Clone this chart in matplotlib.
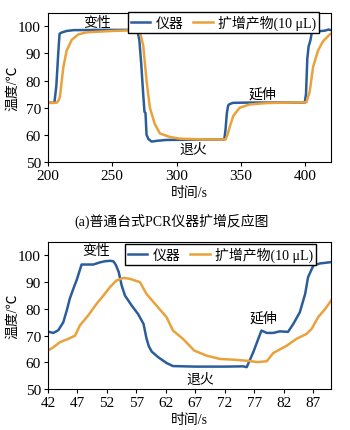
import matplotlib
matplotlib.use('Agg')
import matplotlib.pyplot as plt

plt.rcParams['font.family'] = ['Liberation Serif', 'Noto Sans CJK SC']
plt.rcParams['axes.unicode_minus'] = False

BLUE = '#2b5d9b'
ORANGE = '#e9a23b'

# (a) benchtop PCR run, time in s
t_inst_a = [200, 205, 206.5, 208, 209, 210, 214.5, 220, 240, 269.3, 271, 272.5, 274, 275, 275.8, 276.6,
            278, 280.5, 285, 292, 310, 337, 338, 339, 340, 341, 344, 360, 380, 399.5, 400.5, 401.5,
            402.5, 404, 405, 410, 415, 418, 420]
T_inst_a = [71.8, 71.8, 78, 90, 97.2, 97.6, 98.3, 98.6, 98.7, 98.7, 95, 86, 75, 68.5, 68, 60,
            58.5, 57.5, 57.8, 58.1, 58.2, 58.3, 62, 68, 70.8, 71.3, 71.8, 71.9, 71.9, 71.9, 75, 88,
            92.5, 95, 97.8, 98.2, 98.4, 98.8, 98.6]
t_amp_a = [200, 206.7, 208, 209.3, 210.5, 212, 214.5, 218.4, 223.5, 230, 250, 270, 271.4, 274, 276.6,
           279.2, 283, 287, 294.7, 302, 320, 338, 339.5, 341.3, 344, 349, 356.8, 369.7, 390, 400.8,
           403.4, 406, 409.8, 413.7, 418.9, 420]
T_amp_a = [71.8, 71.8, 72.5, 74, 79, 85, 91, 95, 97, 97.8, 98.3, 98.6, 98, 93, 80,
           70, 64, 60.5, 59.2, 58.6, 58.3, 58.3, 60, 63, 67, 70, 71.2, 71.7, 71.9, 72,
           76, 85, 91, 94.5, 97, 97.3]

# (b) time in s
t_inst_b = [42, 42.9, 43.75, 44.6, 45.2, 45.7, 46.3, 46.9, 47.7, 48.55, 49.7, 50.8, 51.6, 52.5, 53.1,
            53.5, 54, 54.5, 55.05, 56.2, 57.3, 58.2, 58.7, 59.1, 59.6, 60.7, 62.1, 63.2, 67, 72,
            75.1, 75.7, 76.8, 77.65, 78.2, 79.1, 80.2, 81.3, 82.7, 83.6, 84.7, 85.6, 86.1, 87, 88.1, 90]
T_inst_b = [71.5, 71, 72, 75, 79.5, 83.8, 87.5, 91, 96.6, 96.6, 96.6, 97.4, 97.8, 98.0, 97.8,
            96.5, 93.75, 88.75, 85, 81.25, 78, 74.4, 69, 66, 64, 61.9, 59.75, 58.6, 58.4, 58.4,
            58.5, 58.2, 63.75, 68.75, 71.9, 71, 71, 71.6, 71.4, 74.4, 78.75, 85.6, 91.9, 96.25, 97.0, 97.5]
t_amp_b = [42, 42.9, 44, 45.4, 46.6, 47.4, 48.8, 50.25, 51.4, 52.5, 53.6, 54.8, 55.9, 57.6, 58.7,
           60.4, 62.1, 63.2, 64.9, 66.8, 68.9, 71.2, 73.4, 75.7, 77.5, 79.1, 80.2, 82.5, 84.1, 85.8,
           86.7, 87.8, 89, 90]
T_amp_b = [64.4, 65.6, 67.5, 68.75, 70, 73.75, 77.5, 81.9, 85, 88.1, 90.6, 91.6, 91.25, 90, 85.6,
           81.25, 76.9, 71.9, 68.75, 64.4, 62.5, 61.25, 61, 60.6, 60.1, 60.4, 63.5, 66.25, 68.75, 70.6,
           72.5, 76.9, 80, 83.1]

stage_names = ['变性', '退火', '延伸']
stage_pos_a = [(238, 101.3), (313, 54.5), (367, 75.2)]
stage_pos_b = [(50.2, 101.9), (67.8, 53.7), (78.5, 76.6)]

fig = plt.figure(figsize=(3.5, 4.31), dpi=100)
ax1 = fig.add_axes([0.137, 0.622, 0.809, 0.346])
ax2 = fig.add_axes([0.137, 0.095, 0.809, 0.341])


def draw_panel(ax, t1, T1, t2, T2, xlim, xticks, stages, leg_anchor):
    ax.plot(t1, T1, color=BLUE, lw=1.8, label='仪器')
    ax.plot(t2, T2, color=ORANGE, lw=1.8, label='扩增产物(10 μL)')
    ax.set_xlim(*xlim)
    ax.set_ylim(50, 105)
    ax.set_xticks(xticks)
    ax.set_yticks([50, 60, 70, 80, 90, 100])
    ax.tick_params(labelsize=11, length=3, width=0.8, pad=2)
    for s in ax.spines.values():
        s.set_linewidth(0.8)
    ax.set_xlabel('时间/s', fontsize=10, labelpad=3)
    ax.set_ylabel('温度/℃', fontsize=10, labelpad=-1)
    for name, (x, y) in zip(stage_names, stages):
        ax.text(x, y, name, fontsize=10, ha='center', va='center')
    leg = ax.legend(loc='upper right', bbox_to_anchor=leg_anchor, ncol=2, fontsize=10,
                    frameon=True, fancybox=False, edgecolor='black', framealpha=1,
                    handlelength=1.4, handletextpad=0.4, columnspacing=0.7,
                    borderpad=0.2, borderaxespad=0)
    leg.get_frame().set_linewidth(1.0)


draw_panel(ax1, t_inst_a, T_inst_a, t_amp_a, T_amp_a, (200, 420), [200, 250, 300, 350, 400],
           stage_pos_a, (0.958, 1.005))
draw_panel(ax2, t_inst_b, T_inst_b, t_amp_b, T_amp_b, (42, 90), list(range(42, 90, 5)),
           stage_pos_b, (0.947, 0.986))

fig.text(0.49, 0.487, '(a)普通台式PCR仪器扩增反应图', fontsize=10, ha='center', va='center')

fig.savefig('out.png', dpi=100)
